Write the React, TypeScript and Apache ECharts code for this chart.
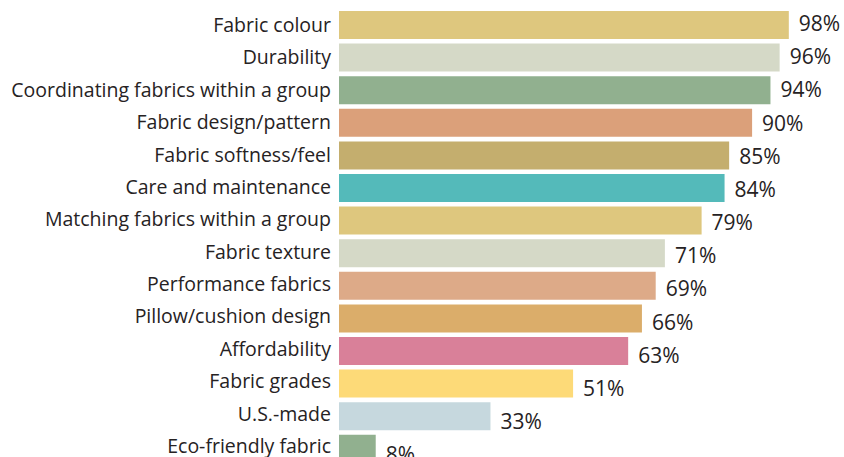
import React, { useEffect, useRef } from "react";
import * as echarts from "echarts";

const categories = [
  "Fabric colour",
  "Durability",
  "Coordinating fabrics within a group",
  "Fabric design/pattern",
  "Fabric softness/feel",
  "Care and maintenance",
  "Matching fabrics within a group",
  "Fabric texture",
  "Performance fabrics",
  "Pillow/cushion design",
  "Affordability",
  "Fabric grades",
  "U.S.-made",
  "Eco-friendly fabric",
];

const values = [98, 96, 94, 90, 85, 84, 79, 71, 69, 66, 63, 51, 33, 8];

const barColors = [
  "#DEC77E",
  "#D5D9C7",
  "#91B08F",
  "#DBA07A",
  "#C4AE6E",
  "#54BABA",
  "#DEC77E",
  "#D5D9C7",
  "#DDAA88",
  "#DBAD6A",
  "#D98099",
  "#FDDA78",
  "#C6D8DE",
  "#91B08F",
];

export default function App() {
  const ref = useRef<HTMLDivElement>(null);

  useEffect(() => {
    if (!ref.current) return;
    const chart = echarts.init(ref.current, undefined, { renderer: "svg" });
    const font = "'Open Sans', 'Noto Sans', sans-serif";
    const rich: Record<string, any> = {};
    categories.forEach((_, i) => {
      rich["r" + i] = {
        color: "#262223",
        fontFamily: font,
        fontSize: 19.5,
        padding: [0, 0, 1 + i * 0.45, 0],
      };
    });
    chart.setOption({
      animation: false,
      backgroundColor: "#ffffff",
      grid: { left: 339, right: 46, top: 8.7, bottom: 4.9, containLabel: false },
      xAxis: {
        type: "value",
        min: 0,
        max: 100,
        show: false,
      },
      yAxis: {
        type: "category",
        data: categories,
        inverse: true,
        axisLine: { show: false },
        axisTick: { show: false },
        splitLine: { show: false },
        axisLabel: {
          margin: 8,
          color: "#262223",
          fontFamily: font,
          fontSize: 19.5,
          formatter: (v: string, i: number) => `{r${i}|${v}}`,
          rich,
        },
      },
      series: [
        {
          type: "bar",
          barCategoryGap: "14%",
          data: values.map((v, i) => ({
            value: v,
            itemStyle: { color: barColors[i] },
            label: { offset: [0, -2 + i * 0.58] },
          })),
          label: {
            show: true,
            position: "right",
            distance: 10,
            formatter: "{c}%",
            color: "#262223",
            fontFamily: font,
            fontSize: 21,
          },
        },
      ],
    });
    return () => chart.dispose();
  }, []);

  return (
    <div
      ref={ref}
      style={{ position: "fixed", left: 0, top: 0, width: 844, height: 470 }}
    />
  );
}
